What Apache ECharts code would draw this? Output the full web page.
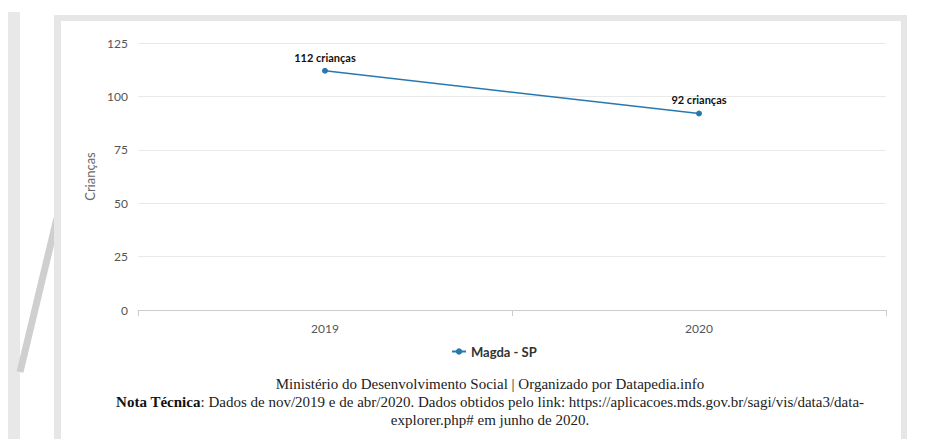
<!DOCTYPE html>
<html><head><meta charset="utf-8">
<script src="https://cdn.jsdelivr.net/npm/echarts@6/dist/echarts.min.js"></script>
<style>html,body{margin:0;padding:0;background:#fff}#c{width:943px;height:439px}</style>
</head><body><div id="c"></div>
<script>
const categories = ['2019', '2020'];
const seriesName = 'Magda - SP';
const values = [112, 92];
const yTicks = [0, 25, 50, 75, 100, 125];
const yTitle = 'Crianças';
const footer1 = 'Ministério do Desenvolvimento Social | Organizado por Datapedia.info';
const footer2b = 'Nota Técnica';
const footer2 = ': Dados de nov/2019 e de abr/2020. Dados obtidos pelo link: https://aplicacoes.mds.gov.br/sagi/vis/data3/data-';
const footer3 = 'explorer.php# em junho de 2020.';

const chart = echarts.init(document.getElementById('c'), null, {renderer: 'svg'});
const sansF = 'Lato, "Noto Sans", sans-serif';
const serifF = '"Liberation Serif", "DejaVu Serif", serif';
chart.setOption({
  backgroundColor: '#fff',
  animation: false,
  graphic: [
    {type: 'rect', shape: {x: 8, y: 12, width: 12, height: 427}, style: {fill: '#e8e8e8'}, z: -10},
    {type: 'line', shape: {x1: 57, y1: 218, x2: 20, y2: 372}, style: {stroke: '#cfcfcf', lineWidth: 7}, z: -10},
    {type: 'rect', shape: {x: 54, y: 15, width: 853, height: 424}, style: {fill: '#e6e6e6'}, z: -10},
    {type: 'rect', shape: {x: 61, y: 21, width: 840, height: 418}, style: {fill: '#ffffff'}, z: -9},
    {type: 'text', x: 490, y: 376, style: {text: footer1, textAlign: 'center', font: '15px ' + serifF, fill: '#222'}},
    {type: 'text', x: 490, y: 394, style: {
      text: '{b|' + footer2b + '}' + footer2, textAlign: 'center',
      font: '15px ' + serifF, fill: '#222',
      rich: {b: {fontFamily: serifF, fontSize: 15, fontWeight: 'bold', fill: '#111'}}
    }},
    {type: 'text', x: 490, y: 412, style: {text: footer3, textAlign: 'center', font: '15px ' + serifF, fill: '#222'}}
  ],
  grid: {left: 138, right: 57, top: 43, bottom: 129},
  legend: {
    data: [seriesName], bottom: 76, left: 446, itemWidth: 14, itemHeight: 8,
    textStyle: {fontFamily: sansF, fontSize: 13, fontWeight: 'bold', color: '#333'}
  },
  xAxis: {
    type: 'category', data: categories, boundaryGap: true,
    axisLine: {lineStyle: {color: '#ccc'}},
    axisTick: {show: true, length: 6, lineStyle: {color: '#ccc'}},
    axisLabel: {fontFamily: sansF, fontSize: 12, color: '#555', margin: 12}
  },
  yAxis: {
    type: 'value', min: yTicks[0], max: yTicks[yTicks.length - 1], interval: 25,
    name: yTitle, nameLocation: 'middle', nameGap: 40, nameRotate: 90,
    nameTextStyle: {fontFamily: sansF, fontSize: 13, color: '#666'},
    axisLine: {show: false}, axisTick: {show: false},
    axisLabel: {fontFamily: sansF, fontSize: 12, color: '#555', margin: 10},
    splitLine: {lineStyle: {color: '#e9e9e9'}}
  },
  series: [{
    name: seriesName, type: 'line', data: values,
    symbol: 'circle', symbolSize: 6,
    itemStyle: {color: '#2878b0'},
    lineStyle: {color: '#2878b0', width: 1.5},
    label: {show: true, position: 'top', distance: 5, formatter: '{c} crianças',
      fontFamily: sansF, fontSize: 11, fontWeight: 'bold', color: '#111'}
  }]
});
</script></body></html>
